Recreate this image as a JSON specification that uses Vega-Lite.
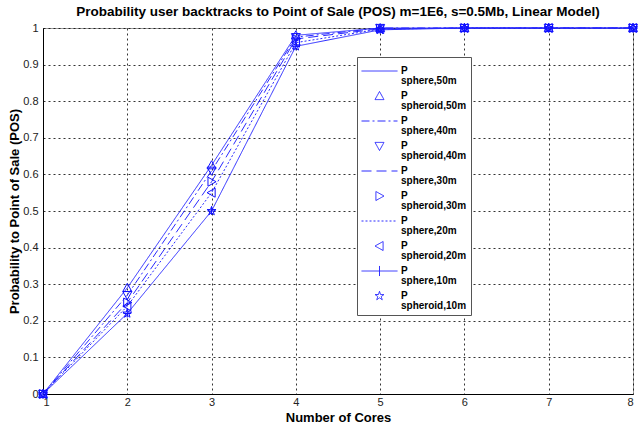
{
  "$schema": "https://vega.github.io/schema/vega-lite/v6.json",
  "width": 590,
  "height": 366,
  "autosize": {"type": "none"},
  "padding": {"left": 43, "top": 28, "right": 8, "bottom": 36},
  "background": "white",
  "title": {
    "text": "Probability user backtracks to Point of Sale (POS) m=1E6, s=0.5Mb, Linear Model)",
    "font": "Liberation Sans",
    "fontSize": 13.5,
    "fontWeight": "bold",
    "color": "#000",
    "anchor": "middle",
    "frame": "group",
    "offset": 3
  },
  "data": {
    "values": [
      {"series": "sphere,50m", "x": 1, "y": 0}, {"series": "sphere,50m", "x": 2, "y": 0.29}, {"series": "sphere,50m", "x": 3, "y": 0.625}, {"series": "sphere,50m", "x": 4, "y": 0.98}, {"series": "sphere,50m", "x": 5, "y": 1}, {"series": "sphere,50m", "x": 6, "y": 1}, {"series": "sphere,50m", "x": 7, "y": 1}, {"series": "sphere,50m", "x": 8, "y": 1},
      {"series": "spheroid,50m", "x": 1, "y": 0}, {"series": "spheroid,50m", "x": 2, "y": 0.29}, {"series": "spheroid,50m", "x": 3, "y": 0.625}, {"series": "spheroid,50m", "x": 4, "y": 0.98}, {"series": "spheroid,50m", "x": 5, "y": 1}, {"series": "spheroid,50m", "x": 6, "y": 1}, {"series": "spheroid,50m", "x": 7, "y": 1}, {"series": "spheroid,50m", "x": 8, "y": 1},
      {"series": "sphere,40m", "x": 1, "y": 0}, {"series": "sphere,40m", "x": 2, "y": 0.27}, {"series": "sphere,40m", "x": 3, "y": 0.61}, {"series": "sphere,40m", "x": 4, "y": 0.975}, {"series": "sphere,40m", "x": 5, "y": 1}, {"series": "sphere,40m", "x": 6, "y": 1}, {"series": "sphere,40m", "x": 7, "y": 1}, {"series": "sphere,40m", "x": 8, "y": 1},
      {"series": "spheroid,40m", "x": 1, "y": 0}, {"series": "spheroid,40m", "x": 2, "y": 0.27}, {"series": "spheroid,40m", "x": 3, "y": 0.61}, {"series": "spheroid,40m", "x": 4, "y": 0.975}, {"series": "spheroid,40m", "x": 5, "y": 1}, {"series": "spheroid,40m", "x": 6, "y": 1}, {"series": "spheroid,40m", "x": 7, "y": 1}, {"series": "spheroid,40m", "x": 8, "y": 1},
      {"series": "sphere,30m", "x": 1, "y": 0}, {"series": "sphere,30m", "x": 2, "y": 0.25}, {"series": "sphere,30m", "x": 3, "y": 0.58}, {"series": "sphere,30m", "x": 4, "y": 0.97}, {"series": "sphere,30m", "x": 5, "y": 0.998}, {"series": "sphere,30m", "x": 6, "y": 1}, {"series": "sphere,30m", "x": 7, "y": 1}, {"series": "sphere,30m", "x": 8, "y": 1},
      {"series": "spheroid,30m", "x": 1, "y": 0}, {"series": "spheroid,30m", "x": 2, "y": 0.25}, {"series": "spheroid,30m", "x": 3, "y": 0.58}, {"series": "spheroid,30m", "x": 4, "y": 0.97}, {"series": "spheroid,30m", "x": 5, "y": 0.998}, {"series": "spheroid,30m", "x": 6, "y": 1}, {"series": "spheroid,30m", "x": 7, "y": 1}, {"series": "spheroid,30m", "x": 8, "y": 1},
      {"series": "sphere,20m", "x": 1, "y": 0}, {"series": "sphere,20m", "x": 2, "y": 0.24}, {"series": "sphere,20m", "x": 3, "y": 0.55}, {"series": "sphere,20m", "x": 4, "y": 0.96}, {"series": "sphere,20m", "x": 5, "y": 0.997}, {"series": "sphere,20m", "x": 6, "y": 1}, {"series": "sphere,20m", "x": 7, "y": 1}, {"series": "sphere,20m", "x": 8, "y": 1},
      {"series": "spheroid,20m", "x": 1, "y": 0}, {"series": "spheroid,20m", "x": 2, "y": 0.24}, {"series": "spheroid,20m", "x": 3, "y": 0.55}, {"series": "spheroid,20m", "x": 4, "y": 0.96}, {"series": "spheroid,20m", "x": 5, "y": 0.997}, {"series": "spheroid,20m", "x": 6, "y": 1}, {"series": "spheroid,20m", "x": 7, "y": 1}, {"series": "spheroid,20m", "x": 8, "y": 1},
      {"series": "sphere,10m", "x": 1, "y": 0}, {"series": "sphere,10m", "x": 2, "y": 0.22}, {"series": "sphere,10m", "x": 3, "y": 0.5}, {"series": "sphere,10m", "x": 4, "y": 0.95}, {"series": "sphere,10m", "x": 5, "y": 0.995}, {"series": "sphere,10m", "x": 6, "y": 1}, {"series": "sphere,10m", "x": 7, "y": 1}, {"series": "sphere,10m", "x": 8, "y": 1},
      {"series": "spheroid,10m", "x": 1, "y": 0}, {"series": "spheroid,10m", "x": 2, "y": 0.22}, {"series": "spheroid,10m", "x": 3, "y": 0.5}, {"series": "spheroid,10m", "x": 4, "y": 0.95}, {"series": "spheroid,10m", "x": 5, "y": 0.995}, {"series": "spheroid,10m", "x": 6, "y": 1}, {"series": "spheroid,10m", "x": 7, "y": 1}, {"series": "spheroid,10m", "x": 8, "y": 1}
    ]
  },
  "encoding": {
    "x": {
      "field": "x",
      "type": "quantitative",
      "scale": {"domain": [1, 8], "nice": false, "zero": false},
      "axis": {
        "title": "Number of Cores",
        "values": [1, 2, 3, 4, 5, 6, 7, 8],
        "format": "d",
        "labelPadding": 2,
        "titlePadding": 4
      }
    },
    "y": {
      "field": "y",
      "type": "quantitative",
      "scale": {"domain": [0, 1], "nice": false},
      "axis": {
        "title": "Probability to Point of Sale (POS)",
        "values": [0, 0.1, 0.2, 0.3, 0.4, 0.5, 0.6, 0.7, 0.8, 0.9, 1],
        "format": "~g",
        "labelPadding": 5,
        "titlePadding": 1
      }
    }
  },
  "layer": [
    {
      "transform": [{"filter": "indexof(datum.series, 'spheroid') < 0"}],
      "mark": {"type": "line", "color": "#2a2aff", "strokeWidth": 1, "clip": false},
      "encoding": {
        "detail": {"field": "series"},
        "strokeDash": {
          "field": "series",
          "type": "nominal",
          "scale": {
            "domain": ["sphere,50m", "spheroid,50m", "sphere,40m", "spheroid,40m", "sphere,30m", "spheroid,30m", "sphere,20m", "spheroid,20m", "sphere,10m", "spheroid,10m"],
            "range": [[1, 0], [1, 0], [8, 3, 2, 3], [1, 0], [10, 5], [1, 0], [2, 2], [1, 0], [1, 0], [1, 0]]
          },
          "legend": {
            "title": null,
            "labelExpr": "['P', '\u00a0\u00a0\u00a0' + datum.label]",
            "encode": {"labels": {"update": {"lineHeight": {"value": 10}}}}
          }
        }
      }
    },
    {
      "transform": [{"filter": "indexof(datum.series, 'spheroid') >= 0"}],
      "mark": {"type": "point", "filled": false, "color": "#1010ff", "strokeWidth": 1, "size": 1296, "opacity": 1, "clip": false},
      "encoding": {
        "shape": {
          "field": "series",
          "type": "nominal",
          "scale": {
            "domain": ["sphere,50m", "spheroid,50m", "sphere,40m", "spheroid,40m", "sphere,30m", "spheroid,30m", "sphere,20m", "spheroid,20m", "sphere,10m", "spheroid,10m"],
            "range": [
              "M-1,0H1",
              "M0,-0.25L0.25,0.2L-0.25,0.2Z",
              "M-1,0H1",
              "M0,0.25L0.25,-0.2L-0.25,-0.2Z",
              "M-1,0H1",
              "M0.25,0L-0.2,0.25L-0.2,-0.25Z",
              "M-1,0H1",
              "M-0.25,0L0.2,0.25L0.2,-0.25Z",
              "M-1,0H1M0,-0.28V0.28",
              "M0,-0.26L0.059,-0.081L0.247,-0.08L0.095,0.031L0.153,0.21L0,0.1L-0.153,0.21L-0.095,0.031L-0.247,-0.08L-0.059,-0.081Z"
            ]
          },
          "legend": {
            "title": null,
            "labelExpr": "['P', '\u00a0\u00a0\u00a0' + datum.label]",
            "encode": {"labels": {"update": {"lineHeight": {"value": 10}}}}
          }
        }
      }
    },
    {
      "transform": [{"filter": "datum.series == 'sphere,10m'"}],
      "mark": {"type": "point", "filled": false, "color": "#1010ff", "strokeWidth": 1, "size": 64, "shape": "M-1,0H1M0,-1V1", "opacity": 1, "clip": false},
      "encoding": {}
    }
  ],
  "config": {
    "view": {"stroke": "#999", "strokeWidth": 1},
    "axis": {
      "labelFont": "Liberation Sans",
      "labelFontSize": 11,
      "labelColor": "#222",
      "titleFont": "Liberation Sans",
      "titleFontSize": 13,
      "titleFontWeight": "bold",
      "titleColor": "#000",
      "domainColor": "#000",
      "domainWidth": 1,
      "ticks": false,
      "grid": true,
      "gridColor": "#000",
      "gridOpacity": 0.8,
      "gridDash": [2, 3],
      "gridWidth": 1
    },
    "legend": {
      "orient": "none",
      "legendX": 314,
      "legendY": 29,
      "fillColor": "white",
      "strokeColor": "#555",
      "padding": 4,
      "labelFont": "Liberation Sans",
      "labelFontSize": 10,
      "labelFontWeight": "bold",
      "labelColor": "#000",
      "labelOffset": 3,
      "symbolSize": 1296,
      "symbolStrokeWidth": 1,
      "symbolStrokeColor": "#2a2aff",
      "symbolFillColor": "transparent",
      "symbolOffset": 0,
      "clipHeight": 20,
      "rowPadding": 0
    }
  }
}
